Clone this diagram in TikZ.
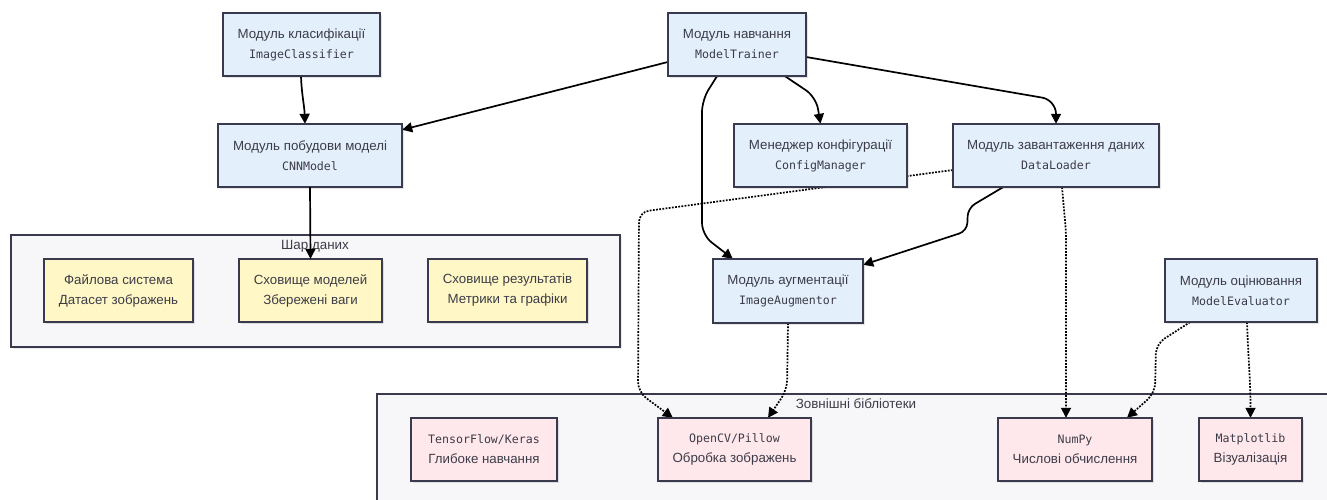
\documentclass[tikz,border=0pt]{standalone}
\usepackage{fontspec}
\setmainfont{Liberation Sans}
\newfontfamily\codefont{DejaVu Sans Mono}
\usetikzlibrary{arrows.meta,shadows}

\definecolor{modfill}{RGB}{227,240,252}
\definecolor{storefill}{RGB}{255,248,198}
\definecolor{libfill}{RGB}{255,232,236}
\definecolor{groupfill}{RGB}{247,247,250}
\definecolor{edgeline}{RGB}{58,58,78}
\definecolor{txt}{RGB}{60,60,72}

% two-line labels: plain caption over a code name
\newcommand{\modtext}[2]{#1\\{\codefont\fontsize{11.6}{20}\selectfont #2}}
\newcommand{\libtext}[2]{{\codefont\fontsize{11.6}{20}\selectfont #1}\\#2}

\tikzset{
  boxbase/.style={draw=edgeline, line width=1.3pt, align=center, text=txt,
    font=\fontsize{13.3}{20}\selectfont, inner sep=0pt,
    minimum height=63pt,
    drop shadow={shadow xshift=2pt, shadow yshift=-2pt, fill=black, opacity=0.10}},
  modbox/.style={boxbase, fill=modfill},
  storebox/.style={boxbase, fill=storefill},
  libbox/.style={boxbase, fill=libfill},
  groupbox/.style={draw=edgeline, line width=1.3pt, fill=groupfill,
    drop shadow={shadow xshift=2pt, shadow yshift=-2pt, fill=black, opacity=0.08}},
  grouplabel/.style={text=txt, font=\fontsize{13.4}{15}\selectfont},
  link/.style={draw=black, line width=1.7pt,
    -{Triangle[length=10pt,width=10pt]}},
  uses/.style={link, dash pattern=on 1.8pt off 1.4pt},
}

\begin{document}
\begin{tikzpicture}[x=1pt,y=-1pt]
\useasboundingbox (0,0) rectangle (1327,499);

% group frames
\begin{scope}
  \clip (0,0) rectangle (1327,499);
  \node[groupbox, minimum width=609pt, minimum height=112pt, inner sep=0pt] (datagrp) at (315.5,291) {};
  \node[groupbox, minimum width=963pt, minimum height=120pt, inner sep=0pt] (libgrp) at (858.5,454) {};
\end{scope}
\node[grouplabel] (datalbl) at (315,246) {Шар даних};
\node[grouplabel] (liblbl) at (856,404) {Зовнішні бібліотеки};

% node placement (coordinates first, so edges can be drawn beneath the boxes)
\path
  (301.5,44.5) coordinate (pic)
  (310,155.5) coordinate (pcnn)
  (737,44.5) coordinate (pmt)
  (820.5,155.5) coordinate (pcm)
  (1056,155.5) coordinate (pdl)
  (788,291) coordinate (pia)
  (1241,290.5) coordinate (pme)
  (118.5,290.5) coordinate (pfs)
  (310.5,290.5) coordinate (pms)
  (507.5,290.5) coordinate (prs)
  (484,449.5) coordinate (ptf)
  (734.5,449.5) coordinate (pcv)
  (1075,449.5) coordinate (pnp)
  (1250.5,449.5) coordinate (pmp);

% invisible anchors for the edges
\begin{scope}[every node/.style={minimum height=63pt, inner sep=0pt}]
  \node[minimum width=157pt] (ic) at (pic) {};
  \node[minimum width=184pt] (cnn) at (pcnn) {};
  \node[minimum width=138pt] (mt) at (pmt) {};
  \node[minimum width=173pt] (cm) at (pcm) {};
  \node[minimum width=206pt] (dl) at (pdl) {};
  \node[minimum width=150pt, minimum height=64pt] (ia) at (pia) {};
  \node[minimum width=152pt] (me) at (pme) {};
  \node[minimum width=143pt] (ms) at (pms) {};
  \node[minimum width=153pt] (cv) at (pcv) {};
  \node[minimum width=154pt] (np) at (pnp) {};
  \node[minimum width=103pt] (mp) at (pmp) {};
\end{scope}

% edges
\draw[link] ([xshift=-0.5pt]ic.south) to[out=-88,in=92] ([xshift=-5pt]cnn.north);
\draw[link] ([yshift=-17.5pt]mt.west) -- ([yshift=-6pt]cnn.north east);
\draw[link, rounded corners=12pt] ([xshift=48pt]mt.south) -- (816,97) -- (cm.north);
\draw[link, rounded corners=14pt] ([yshift=-12.5pt]mt.east) -- (1056,100) -- (dl.north);
\draw[link, rounded corners=12pt] ([xshift=-20pt]mt.south) -- (702,100) -- (702,235) -- ([xshift=20pt]ia.north west);
\draw[link, rounded corners=8pt] ([xshift=-53pt]dl.south) -- (968,208) -- (967,231) -- ([yshift=-6pt]ia.north east);

\draw[uses, rounded corners=10pt] ([yshift=-14.5pt]dl.west) -- (639,212) -- (638,392) -- ([xshift=15pt]cv.north west);
\draw[uses, rounded corners=10pt] (ia.south) -- (787,390) -- ([xshift=33.5pt]cv.north);
\draw[uses, rounded corners=8pt] ([xshift=6pt]dl.south) -- (1066,232) -- ([xshift=-9pt]np.north);
\draw[uses, rounded corners=10pt] ([xshift=-51pt]me.south) -- (1156,344) -- (1155,393) -- ([xshift=52pt]np.north);
\draw[uses] ([xshift=6pt]me.south) to[out=-88,in=90] (mp.north);

% module boxes
\node[modbox, minimum width=157pt] (icbox) at (pic) {\modtext{Модуль класифікації}{ImageClassifier}};
\node[modbox, minimum width=184pt] (cnnbox) at (pcnn) {\modtext{Модуль побудови моделі}{CNNModel}};
\node[modbox, minimum width=138pt] (mtbox) at (pmt) {\modtext{Модуль навчання}{ModelTrainer}};
\node[modbox, minimum width=173pt] (cmbox) at (pcm) {\modtext{Менеджер конфігурації}{ConfigManager}};
\node[modbox, minimum width=206pt] (dlbox) at (pdl) {\modtext{Модуль завантаження даних}{DataLoader}};
\node[modbox, minimum width=150pt, minimum height=64pt] (iabox) at (pia) {\modtext{Модуль аугментації}{ImageAugmentor}};
\node[modbox, minimum width=152pt] (mebox) at (pme) {\modtext{Модуль оцінювання}{ModelEvaluator}};

% storage boxes
\node[storebox, minimum width=149pt] (fsbox) at (pfs) {Файлова система\\Датасет зображень};
\node[storebox, minimum width=143pt] (msbox) at (pms) {Сховище моделей\\Збережені ваги};
\node[storebox, minimum width=159pt] (rsbox) at (prs) {Сховище результатів\\Метрики та графіки};

% library boxes
\node[libbox, minimum width=146pt] (tfbox) at (ptf) {\libtext{TensorFlow/Keras}{Глибоке навчання}};
\node[libbox, minimum width=153pt] (cvbox) at (pcv) {\libtext{OpenCV/Pillow}{Обробка зображень}};
\node[libbox, minimum width=154pt] (npbox) at (pnp) {\libtext{NumPy}{Числові обчислення}};
\node[libbox, minimum width=103pt] (mpbox) at (pmp) {\libtext{Matplotlib}{Візуалізація}};

% the edge into the model store is drawn over its frame
\draw[link] (cnn.south) -- (ms.north);
\end{tikzpicture}
\end{document}
